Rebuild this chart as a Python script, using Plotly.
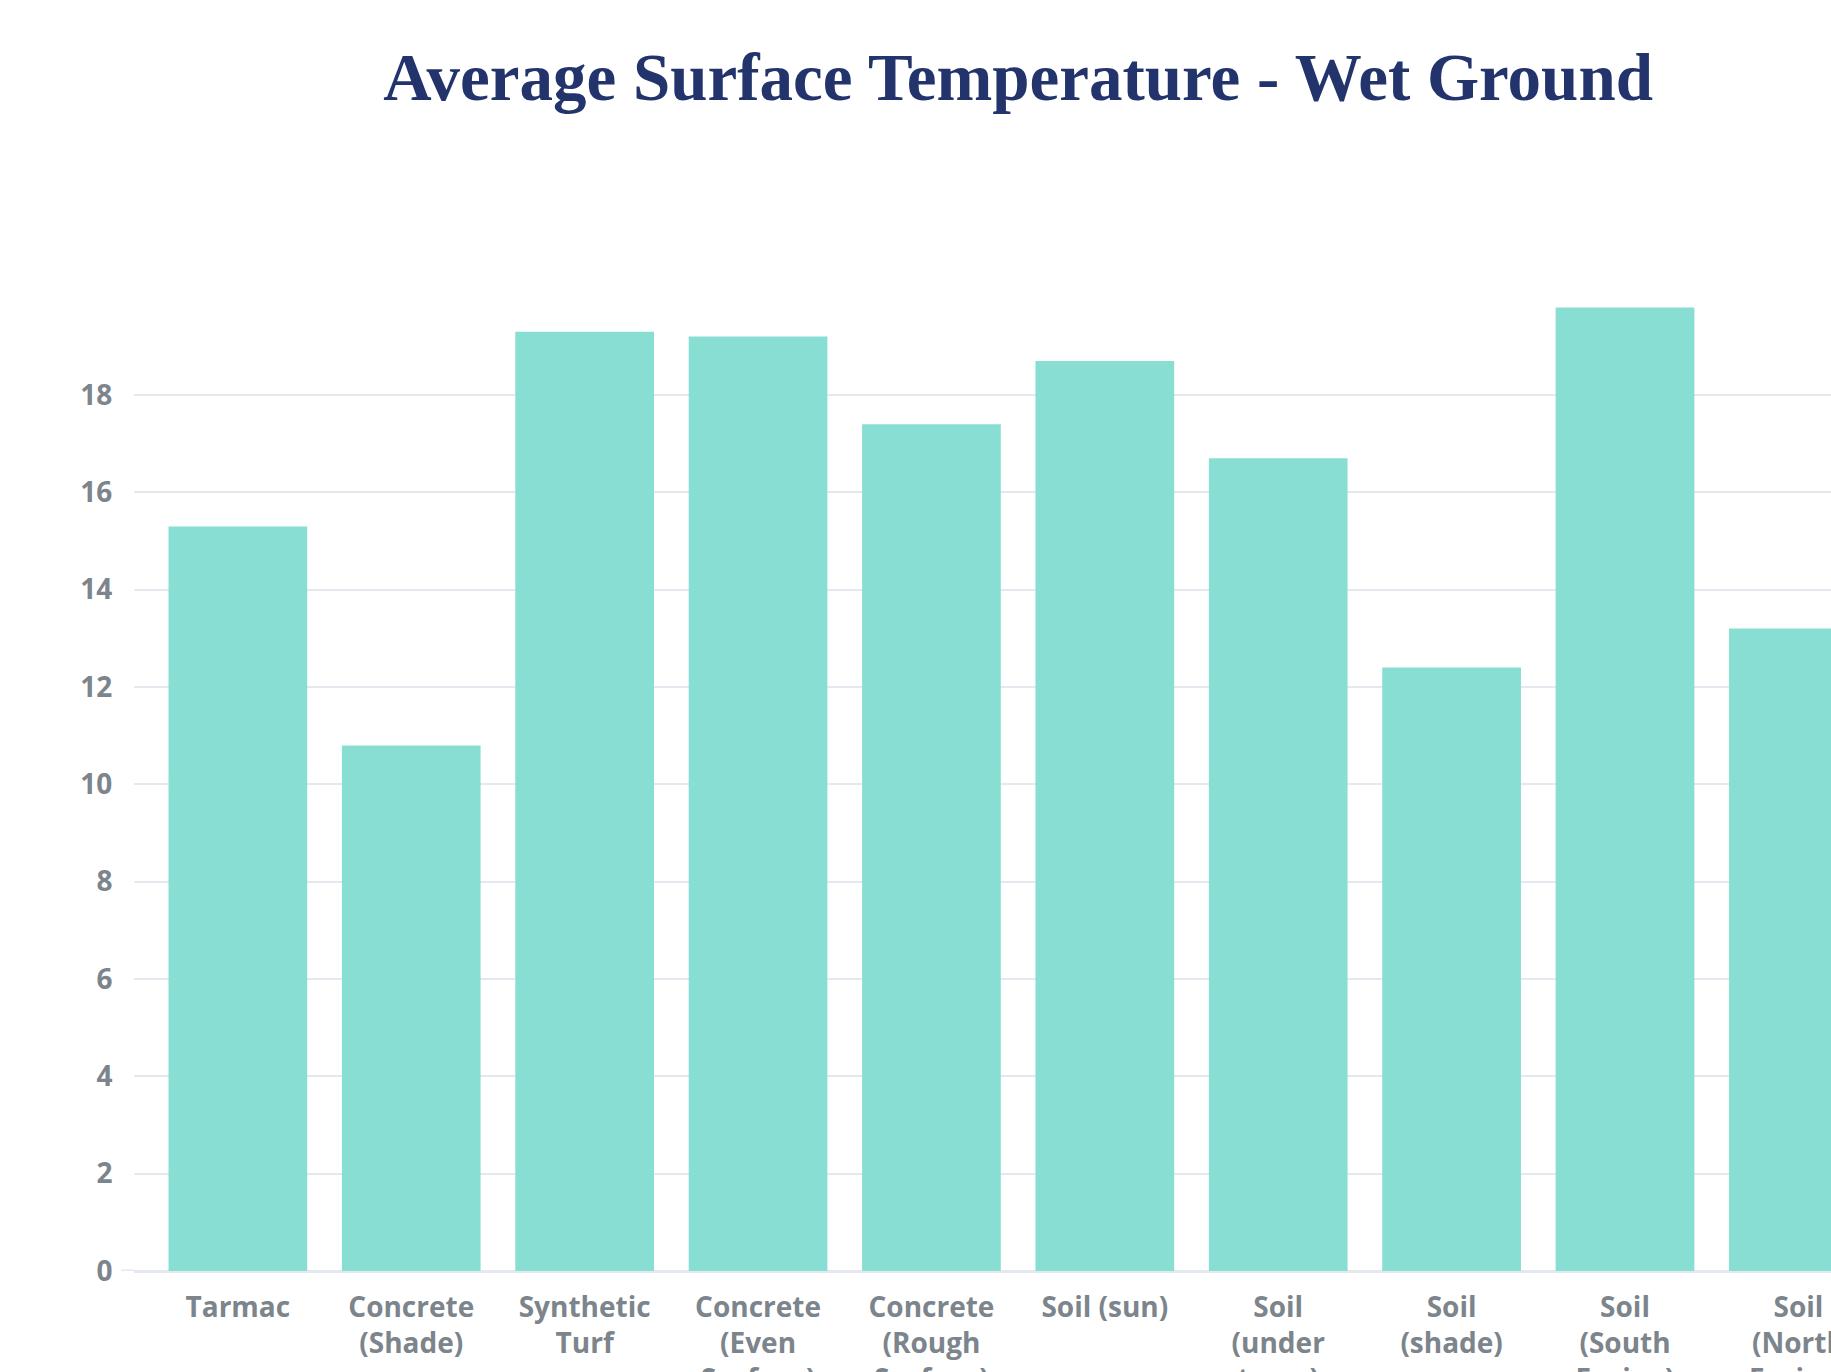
import plotly.graph_objects as go

# Average surface temperatures measured on wet ground, by surface type
surfaces = [
    "Tarmac",
    "Concrete<br>(Shade)",
    "Synthetic<br>Turf",
    "Concrete<br>(Even<br>Surface)",
    "Concrete<br>(Rough<br>Surface)",
    "Soil (sun)",
    "Soil<br>(under<br>trees)",
    "Soil<br>(shade)",
    "Soil<br>(South<br>Facing)",
    "Soil<br>(North<br>Facing)",
]
temperatures = [15.3, 10.8, 19.3, 19.2, 17.4, 18.7, 16.7, 12.4, 19.8, 13.2]
y_ticks = [0, 2, 4, 6, 8, 10, 12, 14, 16, 18]

BAR_COLOR = "#89ded4"
GRID_COLOR = "#e3e9ef"
LABEL_COLOR = "#7c848c"
TITLE_COLOR = "#22346b"
LABEL_FONT = dict(family="Open Sans", size=28, color=LABEL_COLOR, weight="bold")

fig = go.Figure(
    go.Bar(
        x=list(range(len(surfaces))),
        y=temperatures,
        marker=dict(color=BAR_COLOR, line=dict(width=0)),
        hoverinfo="skip",
    )
)

fig.update_layout(
    width=1831,
    height=1372,
    margin=dict(l=134, r=0, t=249, b=101, autoexpand=False),
    paper_bgcolor="white",
    plot_bgcolor="white",
    bargap=0.2,
    showlegend=False,
    title=dict(
        text="Average Surface Temperature - Wet Ground",
        font=dict(family="Liberation Serif", size=67, color=TITLE_COLOR, weight="bold"),
        x=0.556,
        xanchor="center",
        xref="container",
        y=1 - 77 / 1372,
        yanchor="middle",
        yref="container",
    ),
    xaxis=dict(
        tickmode="array",
        tickvals=list(range(len(surfaces))),
        ticktext=surfaces,
        range=[-0.599, 9.188],
        showgrid=False,
        zeroline=False,
        showline=False,
        ticks="outside",
        ticklen=11,
        tickcolor="rgba(0,0,0,0)",
        tickfont=LABEL_FONT,
        tickangle=0,
        ticklabeloverflow="allow",
        automargin=False,
    ),
    yaxis=dict(
        range=[0, 21],
        tickmode="array",
        tickvals=y_ticks,
        showgrid=True,
        gridcolor=GRID_COLOR,
        gridwidth=2,
        zeroline=True,
        zerolinecolor=GRID_COLOR,
        zerolinewidth=3,
        showline=False,
        ticks="outside",
        ticklen=15,
        tickcolor="rgba(0,0,0,0)",
        tickfont=LABEL_FONT,
        automargin=False,
    ),
)

# the baseline runs a little past the start of the gridlines
fig.add_shape(
    type="line",
    xref="paper",
    yref="y",
    x0=-0.0075,
    x1=0,
    y0=0,
    y1=0,
    line=dict(color=GRID_COLOR, width=3),
    layer="below",
)

fig.write_html("out.html")
